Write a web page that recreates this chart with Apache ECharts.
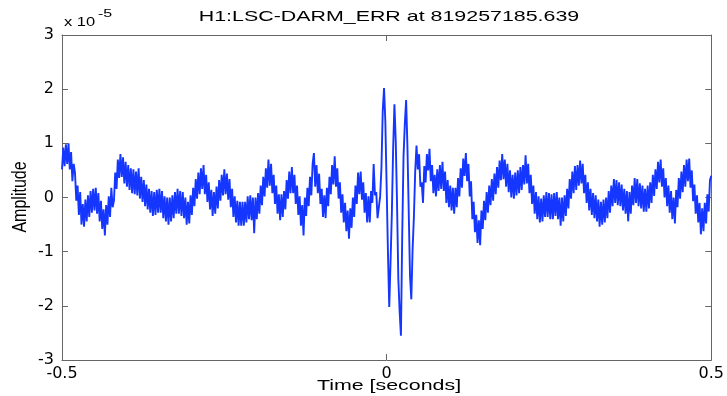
<!DOCTYPE html>
<html><head><meta charset="utf-8">
<script src="https://cdn.jsdelivr.net/npm/echarts@6/dist/echarts.min.js"></script>
<style>html,body{margin:0;padding:0;background:#fff}#c{width:727px;height:396px}</style>
</head><body><div id="c"></div>
<script>
const titleText = 'H1:LSC-DARM_ERR at 819257185.639';
const xAxisLabel = 'Time [seconds]';
const yAxisLabel = 'Amplitude';
const exponentBase = 'x 10';
const exponentPower = '-5';
const startTime = -0.5;
const sampleStep = 0.002;
const xRange = [-0.5, 0.5];
const yRange = [-3, 3];
// amplitude in units of 1e-5, one value per 0.002 s sample
const amplitude = [
 0.52, 0.92, 0.58, 0.98, 0.62, 1.00, 0.52, 0.84, 0.30, 0.62,
 0.46, -0.06, 0.22, -0.32, 0.10, -0.50, -0.12, -0.54, -0.04, -0.44,
 0.04, -0.36, 0.12, -0.28, 0.16, -0.24, 0.18, -0.30, 0.08, -0.44,
 -0.06, -0.58, -0.22, -0.70, -0.14, -0.50, 0.02, -0.36, 0.18, -0.18,
 -0.06, 0.46, 0.16, 0.70, 0.36, 0.80, 0.38, 0.74, 0.26, 0.66,
 0.20, 0.60, 0.14, 0.54, 0.08, 0.52, 0.06, 0.48, 0.04, 0.54,
 -0.02, 0.38, -0.08, 0.32, -0.16, 0.24, -0.22, 0.16, -0.28, 0.12,
 -0.34, 0.10, -0.32, 0.14, -0.28, 0.16, -0.28, 0.12, -0.38, 0.02,
 -0.44, 0.00, -0.50, 0.00, -0.44, 0.04, -0.38, 0.10, -0.30, 0.16,
 -0.30, 0.12, -0.34, 0.10, -0.38, 0.00, -0.50, -0.08, -0.48, 0.04,
 -0.32, 0.18, -0.16, 0.34, -0.02, 0.46, 0.06, 0.54, 0.16, 0.60,
 0.06, 0.42, -0.08, 0.28, -0.22, 0.14, -0.34, 0.10, -0.30, 0.20,
 -0.20, 0.32, -0.06, 0.42, 0.04, 0.52, 0.06, 0.44, -0.04, 0.34,
 -0.18, 0.16, -0.36, 0.02, -0.46, -0.06, -0.52, -0.08, -0.52, -0.08,
 -0.52, -0.08, -0.46, 0.02, -0.40, 0.04, -0.42, 0.00, -0.66, 0.00,
 -0.40, 0.08, -0.30, 0.22, -0.14, 0.38, 0.02, 0.54, 0.18, 0.70,
 0.22, 0.62, 0.08, 0.42, -0.12, 0.22, -0.30, 0.06, -0.42, 0.06,
 -0.36, 0.12, -0.22, 0.32, -0.02, 0.48, 0.08, 0.56, 0.08, 0.42,
 -0.12, 0.22, -0.32, 0.02, -0.52, -0.14, -0.70, 0.00, -0.34, 0.18,
 -0.16, 0.38, 0.04, 0.62, 0.82, 0.20, 0.60, 0.08, 0.44, -0.12,
 0.16, -0.36, 0.04, -0.38, 0.18, -0.16, 0.38, 0.06, 0.60, 0.24,
 0.76, 0.20, 0.54, -0.02, 0.28, -0.28, 0.06, -0.46, -0.10, -0.62,
 -0.24, -0.76, -0.20, -0.56, 0.00, -0.36, 0.22, -0.12, 0.46, 0.06,
 0.48, -0.04, 0.28, -0.28, 0.08, -0.46, 0.02, -0.46, 0.12, -0.10,
 0.62, 0.04, 0.10, -0.38, -0.40, 0.02, 0.55, 1.60, 2.02, 1.40,
 0.20, -1.00, -2.02, -1.20, -0.30, 0.90, 1.72, 1.05, -0.10, -1.50,
 -2.10, -2.55, -0.70, 0.75, 1.35, 1.80, 0.95, -0.25, -1.45, -1.88,
 -0.95, -0.35, 0.48, 0.96, 0.52, 0.80, 0.20, 0.28, -0.10, 0.58,
 0.28, 0.80, 0.50, 0.90, 0.30, 0.60, 0.08, 0.42, 0.02, 0.52,
 0.12, 0.60, 0.16, 0.66, 0.12, 0.48, -0.10, 0.32, -0.18, 0.22,
 -0.24, 0.18, -0.30, 0.18, -0.18, 0.36, 0.02, 0.54, 0.18, 0.72,
 0.40, 0.82, 0.30, 0.62, 0.02, 0.30, -0.40, -0.08, -0.64, -0.32,
 -0.84, -0.42, -0.88, -0.24, -0.58, -0.06, -0.42, 0.10, -0.28, 0.22,
 -0.14, 0.34, -0.06, 0.44, 0.06, 0.56, 0.18, 0.68, 0.32, 0.80,
 0.34, 0.70, 0.20, 0.62, 0.10, 0.50, 0.00, 0.42, -0.02, 0.46,
 0.04, 0.50, 0.08, 0.56, 0.14, 0.60, 0.24, 0.78, 0.26, 0.62,
 0.08, 0.42, -0.12, 0.22, -0.30, 0.10, -0.40, 0.02, -0.46, -0.02,
 -0.44, 0.04, -0.36, 0.10, -0.36, 0.08, -0.40, 0.06, -0.40, 0.08,
 -0.34, 0.10, -0.40, 0.00, -0.52, 0.00, -0.44, 0.04, -0.34, 0.16,
 -0.20, 0.34, -0.02, 0.48, 0.08, 0.58, 0.14, 0.60, 0.22, 0.68,
 0.26, 0.62, 0.08, 0.42, -0.10, 0.28, -0.24, 0.16, -0.32, 0.08,
 -0.38, 0.04, -0.44, -0.04, -0.54, -0.08, -0.50, -0.04, -0.46, 0.00,
 -0.38, 0.12, -0.28, 0.22, -0.16, 0.34, -0.10, 0.32, -0.14, 0.28,
 -0.16, 0.24, -0.24, 0.16, -0.30, 0.12, -0.44, 0.10, -0.30, 0.22,
 -0.14, 0.36, -0.10, 0.34, -0.16, 0.26, -0.20, 0.22, -0.26, 0.16,
 -0.26, 0.22, -0.20, 0.28, -0.10, 0.42, 0.03, 0.52, 0.16, 0.66,
 0.28, 0.70, 0.20, 0.54, 0.00, 0.36, -0.16, 0.22, -0.28, 0.12,
 -0.40, 0.00, -0.48, 0.14, -0.18, 0.36, -0.02, 0.48, 0.10, 0.60,
 0.20, 0.70, 0.30, 0.72, 0.18, 0.50, -0.07, 0.24, -0.30, 0.04,
 -0.46, -0.10, -0.68, -0.20, -0.62, -0.10, -0.48, 0.06, -0.26, 0.32,
 0.40
];

const points = amplitude.map((v, i) => [+(startTime + i * sampleStep).toFixed(4), v]);

const axisColor = '#666';
const tickFont = { fontFamily: 'DejaVu Sans', fontSize: 16, color: '#000' };
const textFont = '"Liberation Sans", Arial, sans-serif';

const chart = echarts.init(document.getElementById('c'), null, { renderer: 'canvas' });
chart.setOption({
  animation: false,
  backgroundColor: '#fff',
  grid: { left: 62, right: 11, top: 35, bottom: 36, containLabel: false },
  xAxis: [
    { type: 'value', position: 'bottom', min: xRange[0], max: xRange[1], interval: 0.5,
      axisLine: { show: true, onZero: false, lineStyle: { color: axisColor, width: 1 } },
      axisTick: { show: true, inside: true, length: 6, lineStyle: { color: axisColor } },
      axisLabel: Object.assign({ margin: 6 }, tickFont),
      splitLine: { show: false } },
    { type: 'value', position: 'top', min: xRange[0], max: xRange[1], interval: 0.5,
      axisLine: { show: true, onZero: false, lineStyle: { color: axisColor, width: 1 } },
      axisTick: { show: true, inside: true, length: 6, lineStyle: { color: axisColor } },
      axisLabel: { show: false }, splitLine: { show: false } }
  ],
  yAxis: [
    { type: 'value', position: 'left', min: yRange[0], max: yRange[1], interval: 1,
      axisLine: { show: true, onZero: false, lineStyle: { color: axisColor, width: 1 } },
      axisTick: { show: true, inside: true, length: 6, lineStyle: { color: axisColor } },
      axisLabel: Object.assign({ margin: 8 }, tickFont),
      splitLine: { show: false } },
    { type: 'value', position: 'right', min: yRange[0], max: yRange[1], interval: 1,
      axisLine: { show: true, onZero: false, lineStyle: { color: axisColor, width: 1 } },
      axisTick: { show: true, inside: true, length: 6, lineStyle: { color: axisColor } },
      axisLabel: { show: false }, splitLine: { show: false } }
  ],
  series: [{
    type: 'line', xAxisIndex: 0, yAxisIndex: 0, data: points,
    showSymbol: false, symbol: 'none', sampling: null,
    lineStyle: { color: '#1436ff', width: 1.9, join: 'miter', miterLimit: 2 }, itemStyle: { color: '#1436ff' },
    z: 1
  }],
  graphic: [
    { type: 'text', x: 389, y: 17, scaleX: 1.38,
      style: { text: titleText, font: '15.5px ' + textFont, fill: '#000', align: 'center', verticalAlign: 'middle', textAlign: 'center', textVerticalAlign: 'middle' } },
    { type: 'text', x: 389, y: 386, scaleX: 1.38,
      style: { text: xAxisLabel, font: '15.5px ' + textFont, fill: '#000', align: 'center', verticalAlign: 'middle', textAlign: 'center', textVerticalAlign: 'middle' } },
    { type: 'text', x: 20, y: 197, rotation: Math.PI / 2, scaleY: 1.3,
      style: { text: yAxisLabel, font: '16px ' + textFont, fill: '#000', align: 'center', verticalAlign: 'middle', textAlign: 'center', textVerticalAlign: 'middle' } },
    { type: 'text', x: 64, y: 22, scaleX: 1.27,
      style: { text: exponentBase, font: '13px ' + textFont, fill: '#000', align: 'left', verticalAlign: 'middle', textAlign: 'left', textVerticalAlign: 'middle' } },
    { type: 'text', x: 98, y: 14, scaleX: 1.6,
      style: { text: exponentPower, font: '10px ' + textFont, fill: '#000', align: 'left', verticalAlign: 'middle', textAlign: 'left', textVerticalAlign: 'middle' } }
  ]
});
</script>
</body></html>
